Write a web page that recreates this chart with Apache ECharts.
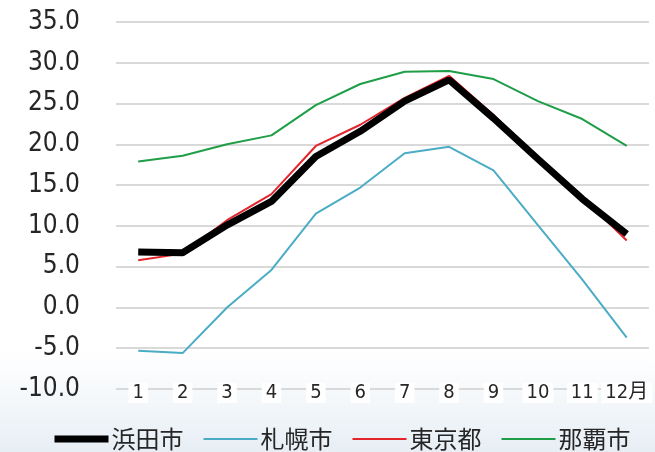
<!DOCTYPE html>
<html>
<head>
<meta charset="utf-8">
<script src="https://cdn.jsdelivr.net/npm/echarts@6/dist/echarts.min.js"></script>
<style>
  html, body { margin: 0; padding: 0; background: #fff; }
  #chart { width: 655px; height: 452px; }
</style>
</head>
<body>
<div id="chart"></div>
<script>
const months = ['1', '2', '3', '4', '5', '6', '7', '8', '9', '10', '11', '12月'];
const hamada = [6.8, 6.7, 10.1, 13.0, 18.5, 21.6, 25.3, 27.9, 23.2, 18.2, 13.3, 9.0];
const sapporo = [-5.3, -5.6, 0.0, 4.6, 11.5, 14.7, 18.9, 19.7, 16.8, 10.1, 3.4, -3.7];
const tokyo = [5.8, 6.6, 10.7, 13.9, 19.8, 22.4, 25.7, 28.4, 23.6, 18.4, 13.5, 8.2];
const naha = [17.9, 18.6, 20.0, 21.1, 24.8, 27.4, 28.9, 29.0, 28.0, 25.3, 23.1, 19.8];

const narrow = '"DejaVu Sans Condensed", "Noto Sans CJK JP", sans-serif';
const cjk = '"Noto Sans CJK JP", sans-serif';

const chart = echarts.init(document.getElementById('chart'));

const makeLine = (name, data, color, width, z) => ({
  name: name,
  type: 'line',
  data: data,
  symbol: 'none',
  z: z,
  lineStyle: { color: color, width: width },
  itemStyle: { color: color }
});

chart.setOption({
  animation: false,
  graphic: [{
    type: 'rect',
    z: -10,
    silent: true,
    shape: { x: 0, y: 350, width: 655, height: 102 },
    style: {
      fill: new echarts.graphic.LinearGradient(0, 0, 0, 1, [
        { offset: 0, color: 'rgba(232,240,246,0)' },
        { offset: 1, color: 'rgba(228,236,243,0.9)' }
      ])
    }
  }],
  grid: { left: 116, right: 2, top: 22, bottom: 63 },
  xAxis: {
    type: 'category',
    data: months,
    boundaryGap: true,
    axisLine: { show: false },
    axisTick: { show: false },
    axisLabel: {
      color: '#262626',
      fontFamily: narrow,
      fontSize: 20,
      margin: 4,
      verticalAlign: 'middle',
      backgroundColor: '#fff',
      padding: [0, 4],
      interval: 0
    }
  },
  yAxis: {
    type: 'value',
    min: -10,
    max: 35,
    interval: 5,
    axisLine: { show: false },
    axisTick: { show: false },
    axisLabel: {
      color: '#262626',
      fontFamily: narrow,
      fontSize: 26,
      margin: 36,
      formatter: v => v.toFixed(1)
    },
    splitLine: { lineStyle: { color: '#d9d9d9', width: 2 } }
  },
  legend: {
    data: ['浜田市', '札幌市', '東京都', '那覇市'],
    left: 46,
    top: 422,
    itemWidth: 54,
    itemHeight: 14,
    itemGap: 19,
    lineStyle: { width: 'inherit' },
    itemStyle: { opacity: 0 },
    textStyle: { color: '#262626', fontFamily: cjk, fontSize: 24, padding: [0, 0, 0, -2] }
  },
  series: [
    makeLine('浜田市', hamada, '#000000', 7, 5),
    makeLine('札幌市', sapporo, '#4bacc6', 2, 2),
    makeLine('東京都', tokyo, '#e3242b', 2, 4),
    makeLine('那覇市', naha, '#1f9e48', 2, 3)
  ]
});
</script>
</body>
</html>
